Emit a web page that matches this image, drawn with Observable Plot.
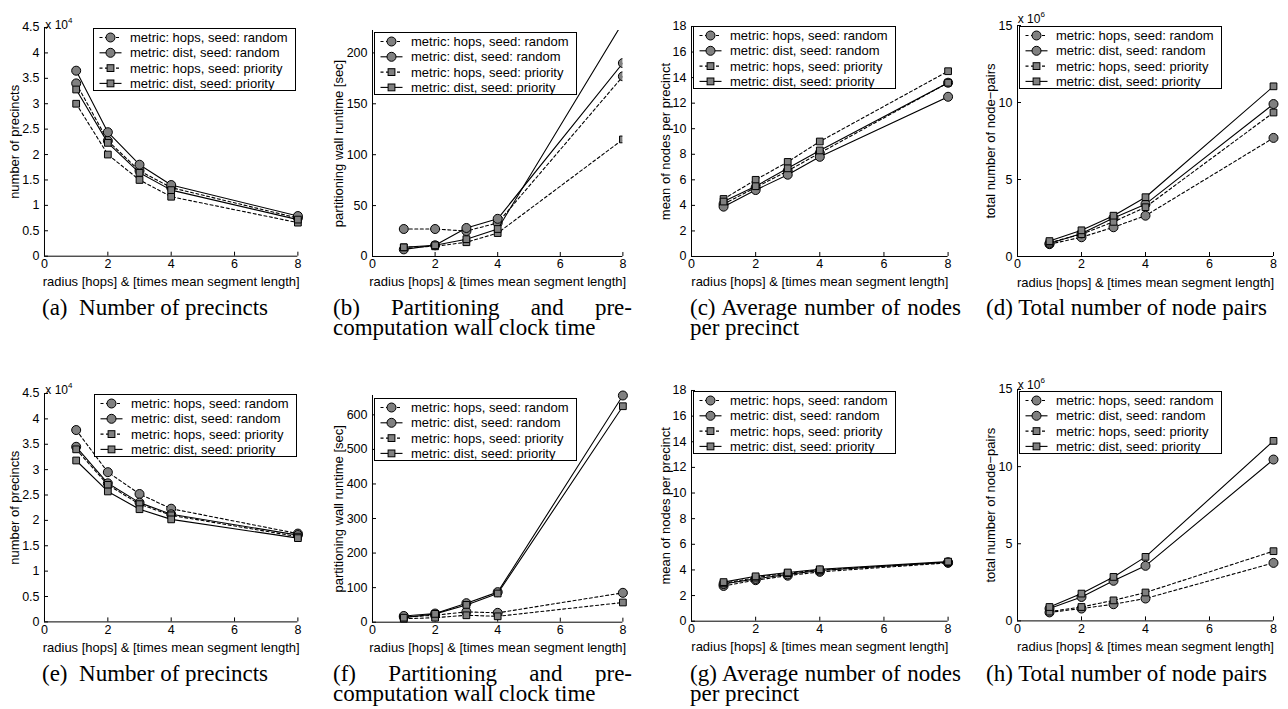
<!DOCTYPE html>
<html><head><meta charset="utf-8">
<script src="https://cdn.jsdelivr.net/npm/d3@7"></script>
<script src="https://cdn.jsdelivr.net/npm/@observablehq/plot@0.6"></script>
<style>
body{margin:0;background:#fff;}
#fig{position:relative;width:1288px;height:709px;overflow:hidden;background:#fff;}
.cap{position:absolute;font-family:"Liberation Serif","Times New Roman",serif;font-size:23px;line-height:20px;color:#000;text-align:justify;}
.exp{position:absolute;font-family:"Liberation Sans",Arial,sans-serif;font-size:12px;line-height:12px;color:#000;white-space:nowrap;}
.exp span{font-size:8px;position:relative;top:-6px;}
.plot{position:absolute;}
.leg{position:absolute;}
</style></head><body><div id="fig"></div>
<script>
// ---------- data ----------
const radius = [1, 2, 3, 4, 8];
const seriesNames = ["metric: hops, seed: random", "metric: dist, seed: random", "metric: hops, seed: priority", "metric: dist, seed: priority"];
const seriesDashed = [true, false, true, false];
const seriesSymbol = ["circle", "circle", "square", "square"];
const xTicks = [0, 2, 4, 6, 8];
const xLabel = "radius [hops] & [times mean segment length]";

// (a) number of precincts
const aHopsRandom = [34000, 22700, 16800, 13500, 7500];
const aDistRandom = [36500, 24400, 18000, 14000, 7900];
const aHopsPriority = [30000, 20000, 15000, 11700, 6600];
const aDistPriority = [32800, 22300, 16400, 13000, 7200];
// (b) partitioning wall runtime [sec]
const bHopsRandom = [27, 27, 25, 33, 177];
const bDistRandom = [7, 11, 28, 37, 190];
const bHopsPriority = [9, 10, 14, 23, 115];
const bDistPriority = [9, 11, 17, 27, 230];
// (c) mean nodes per precinct
const cHopsRandom = [4.1, 5.4, 6.7, 8.1, 13.6];
const cDistRandom = [3.9, 5.2, 6.4, 7.8, 12.5];
const cHopsPriority = [4.5, 6.0, 7.4, 9.0, 14.5];
const cDistPriority = [4.3, 5.5, 6.9, 8.3, 13.6];
// (d) total node pairs
const dHopsRandom = [800000, 1250000, 1900000, 2650000, 7700000];
const dDistRandom = [850000, 1500000, 2500000, 3400000, 9900000];
const dHopsPriority = [900000, 1450000, 2250000, 3200000, 9350000];
const dDistPriority = [1000000, 1700000, 2650000, 3850000, 11050000];
// (e) number of precincts
const eHopsRandom = [37800, 29500, 25200, 22300, 17400];
const eDistRandom = [34500, 27300, 23500, 21200, 17100];
const eHopsPriority = [34000, 27000, 23200, 21000, 16800];
const eDistPriority = [31800, 25700, 22200, 20200, 16500];
// (f) partitioning wall runtime [sec]
const fHopsRandom = [15, 20, 30, 27, 85];
const fDistRandom = [18, 25, 55, 87, 656];
const fHopsPriority = [10, 13, 20, 17, 57];
const fDistPriority = [13, 24, 50, 83, 625];
// (g) mean nodes per precinct
const gHopsRandom = [2.75, 3.2, 3.55, 3.85, 4.55];
const gDistRandom = [2.9, 3.3, 3.65, 3.95, 4.6];
const gHopsPriority = [2.95, 3.4, 3.75, 4.0, 4.6];
const gDistPriority = [3.05, 3.5, 3.8, 4.05, 4.65];
// (h) total node pairs
const hHopsRandom = [550000, 800000, 1080000, 1450000, 3760000];
const hDistRandom = [800000, 1550000, 2600000, 3570000, 10460000];
const hHopsPriority = [600000, 900000, 1330000, 1840000, 4520000];
const hDistPriority = [900000, 1770000, 2850000, 4150000, 11670000];

// tick values
const ticksPrecincts = [0, 5000, 10000, 15000, 20000, 25000, 30000, 35000, 40000, 45000];
const ticksRuntimeB = [0, 50, 100, 150, 200];
const ticksRuntimeF = [0, 100, 200, 300, 400, 500, 600];
const ticksMean = [0, 2, 4, 6, 8, 10, 12, 14, 16, 18];
const ticksPairs = [0, 5000000, 10000000, 15000000];

const labPrecincts = "number of precincts";
const labRuntime = "partitioning wall runtime [sec]";
const labMean = "mean of nodes per precinct";
const labPairs = "total number of node\u2212pairs";

const fmt4 = d => String(+(d / 1e4).toFixed(2));
const fmt6 = d => String(+(d / 1e6).toFixed(2));

// ---------- layout ----------
const panels = [
  {vals:[aHopsRandom,aDistRandom,aHopsPriority,aDistPriority], ymax:45000, ticks:ticksPrecincts, fmt:fmt4, label:labPrecincts, x0:44.3, x8:297.7, y0:256, yTop:27.3, lo:35, exp:"4", expY:19, leg:[93,28],
   cap:{left:42, top:298, width:280, text:"(a)\u00a0 Number of precincts"}},
  {vals:[bHopsRandom,bDistRandom,bHopsPriority,bDistPriority], ymax:222, ticks:ticksRuntimeB, fmt:d=>d, label:labRuntime, x0:372.3, x8:622.7, y0:256, yTop:30, lo:38.5, clipDots:true, leg:[374,32],
   cap:{left:333, top:298, width:299, text:"(b) Partitioning and pre-computation wall clock time"}},
  {vals:[cHopsRandom,cDistRandom,cHopsPriority,cDistPriority], ymax:18, ticks:ticksMean, fmt:d=>d, label:labMean, x0:690.7, x8:947.3, y0:256, yTop:26, lo:31, leg:[693,26],
   cap:{left:690, top:298, width:271, text:"(c) Average number of nodes per precinct"}},
  {vals:[dHopsRandom,dDistRandom,dHopsPriority,dDistPriority], ymax:15000000, ticks:ticksPairs, fmt:fmt6, label:labPairs, x0:1016.7, x8:1272.7, y0:256, yTop:25, lo:32, exp:"6", expY:13, leg:[1019,26],
   cap:{left:986, top:298, width:300, text:"(d) Total number of node pairs"}},
  {vals:[eHopsRandom,eDistRandom,eHopsPriority,eDistPriority], ymax:45000, ticks:ticksPrecincts, fmt:fmt4, label:labPrecincts, x0:44.3, x8:297.7, y0:621.7, yTop:393.3, lo:35, exp:"4", expY:384, leg:[94,394],
   cap:{left:42, top:664, width:280, text:"(e)\u00a0 Number of precincts"}},
  {vals:[fHopsRandom,fDistRandom,fHopsPriority,fDistPriority], ymax:656, ticks:ticksRuntimeF, fmt:d=>d, label:labRuntime, x0:372.3, x8:622.7, y0:621.7, yTop:395, lo:38.5, leg:[374,398],
   cap:{left:333, top:664, width:299, text:"(f) Partitioning and pre-computation wall clock time"}},
  {vals:[gHopsRandom,gDistRandom,gHopsPriority,gDistPriority], ymax:18, ticks:ticksMean, fmt:d=>d, label:labMean, x0:690.7, x8:947.3, y0:620.7, yTop:390, lo:31, leg:[693,391],
   cap:{left:690, top:664, width:271, text:"(g) Average number of nodes per precinct"}},
  {vals:[hHopsRandom,hDistRandom,hHopsPriority,hDistPriority], ymax:15000000, ticks:ticksPairs, fmt:fmt6, label:labPairs, x0:1016.7, x8:1272.7, y0:620.7, yTop:389.3, lo:32, exp:"6", expY:379, leg:[1019,391],
   cap:{left:986, top:664, width:300, text:"(h) Total number of node pairs"}}
];

const fig = document.getElementById("fig");
const ML = 60, MT = 20, MR = 20, MB = 45;
const GRAY = "#808080";
const SANS = "'Liberation Sans', Arial, Helvetica, sans-serif";

function makePanel(p) {
  const w = p.x8 - p.x0, h = p.y0 - p.yTop;
  const marks = [
    Plot.ruleY([0], {stroke: "black", strokeWidth: 1}),
    Plot.ruleX([0], {stroke: "black", strokeWidth: 1}),
    Plot.axisX({ticks: xTicks, tickSize: -4, tickPadding: 7, label: xLabel, labelAnchor: "center", labelOffset: 30, labelArrow: "none", fontSize: 12.5}),
    Plot.axisY({ticks: p.ticks, tickFormat: p.fmt, tickSize: -4, tickPadding: 9, label: p.label, labelAnchor: "center", labelOffset: p.lo, labelArrow: "none", fontSize: 12.5})
  ];
  p.vals.forEach((arr, i) => {
    const rows = arr.map((v, j) => ({x: radius[j], y: v}));
    const lo = {x: "x", y: "y", stroke: "black", strokeWidth: 1.1, clip: true};
    if (seriesDashed[i]) lo.strokeDasharray = "3,2.5";
    marks.push(Plot.line(rows, lo));
    marks.push(Plot.dot(rows, {x: "x", y: "y", symbol: seriesSymbol[i], r: seriesSymbol[i] === "circle" ? 4.5 : 3.8,
      fill: GRAY, stroke: "black", strokeWidth: 1, clip: !!p.clipDots}));
  });
  const svg = Plot.plot({
    width: w + ML + MR, height: h + MT + MB,
    marginLeft: ML, marginTop: MT, marginRight: MR, marginBottom: MB,
    x: {domain: [0, 8]}, y: {domain: [0, p.ymax]},
    style: {fontFamily: SANS, fontSize: "12.5px", background: "transparent", color: "black", overflow: "visible"},
    marks
  });
  svg.classList.add("plot");
  svg.style.left = (p.x0 - ML) + "px";
  svg.style.top = (p.yTop - MT) + "px";
  // enforce font sizes: axis titles 13px, tick labels 12.5px
  svg.querySelectorAll("g[aria-label$='tick label'] text").forEach(t => { t.style.fontSize = "12.5px"; });
  svg.querySelectorAll("g[aria-label='x-axis label'] text, g[aria-label='y-axis label'] text").forEach(t => { t.style.fontSize = "13px"; });
  fig.appendChild(svg);

  if (p.exp) {
    const e = document.createElement("div");
    e.className = "exp";
    e.style.left = (p.x0 + 1) + "px";
    e.style.top = p.expY + "px";
    e.innerHTML = "x 10<span>" + p.exp + "</span>";
    fig.appendChild(e);
  }
  drawLegend(p.leg[0], p.leg[1]);
  const c = p.cap;
  const d = document.createElement("div");
  d.className = "cap";
  d.style.left = c.left + "px";
  d.style.top = c.top + "px";
  d.style.width = c.width + "px";
  d.textContent = c.text;
  fig.appendChild(d);
}

function drawLegend(left, top) {
  const W = 203, H = 63;
  const svg = d3.create("svg").attr("class", "leg").attr("width", W + 2).attr("height", H + 2)
    .style("left", (left - 1) + "px").style("top", (top - 1) + "px");
  const g = svg.append("g").attr("transform", "translate(1,1)");
  g.append("rect").attr("x", 0.5).attr("y", 0.5).attr("width", W - 1).attr("height", H - 1).attr("fill", "white").attr("stroke", "black").attr("stroke-width", 1);
  seriesNames.forEach((name, i) => {
    const y = 9.5 + i * 15.3;
    g.append("line").attr("x1", 6.5).attr("x2", 28.5).attr("y1", y).attr("y2", y).attr("stroke", "black").attr("stroke-width", 1.1)
      .attr("stroke-dasharray", seriesDashed[i] ? "3,2.5" : null);
    if (seriesSymbol[i] === "circle") g.append("circle").attr("cx", 17.5).attr("cy", y).attr("r", 4.5).attr("fill", GRAY).attr("stroke", "black");
    else g.append("rect").attr("x", 17.5 - 3.4).attr("y", y - 3.4).attr("width", 6.8).attr("height", 6.8).attr("fill", GRAY).attr("stroke", "black");
    g.append("text").attr("x", 37).attr("y", y).attr("dy", "0.35em").attr("font-family", SANS).attr("font-size", 13).text(name);
  });
  fig.appendChild(svg.node());
}

panels.forEach(makePanel);
</script></body></html>
